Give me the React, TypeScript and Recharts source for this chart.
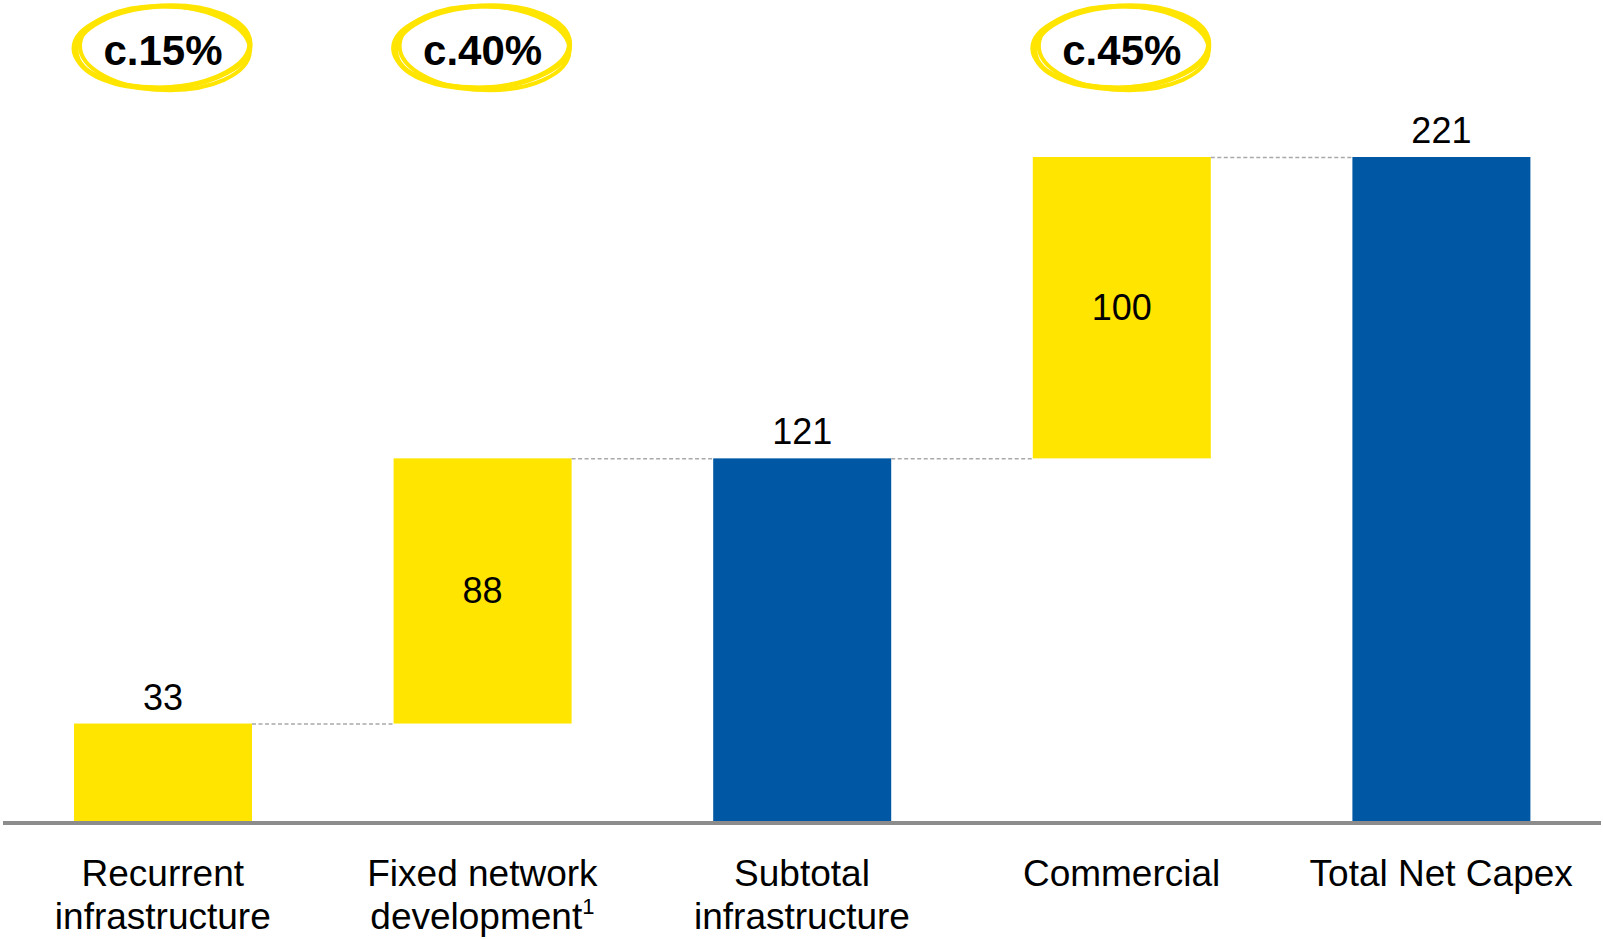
import { BarChart, Bar, XAxis, YAxis, LabelList } from 'recharts';

// categories, split into the lines they are printed on
const categoryLines = [
  ['Recurrent', 'infrastructure'],
  ['Fixed network', 'development'],
  ['Subtotal', 'infrastructure'],
  ['Commercial'],
  ['Total Net Capex'],
];
const footnotes = ['', '1', '', '', ''];
const amounts = [33, 88, 121, 100, 221];
const kinds = ['step', 'step', 'total', 'step', 'total'];
const shares = ['c.15%', 'c.40%', '', 'c.45%', ''];

const YELLOW = '#FFE500';
const BLUE = '#0057A3';
const FONT = '"Liberation Sans", Arial, Helvetica, sans-serif';

const W = 1603;
const H = 939;
const MARGIN = { top: 157, right: 2, left: 3, bottom: 0 };
const AXIS_H = 116;
const BAND = (W - MARGIN.left - MARGIN.right) / amounts.length;

// waterfall: steps float on the running total, totals start at zero
let running = 0;
const data = amounts.map((v, i) => {
  const low = kinds[i] === 'total' ? 0 : running;
  const high = low + v;
  running = high;
  return { name: categoryLines[i].join(' '), low, high, amount: v, share: shares[i] };
});

function WaterfallBar(props: any) {
  const { x, y, width, height, index } = props;
  const top = height < 0 ? y + height : y;
  const h = Math.abs(height);
  return (
    <g>
      <rect x={x} y={top} width={width} height={h} fill={kinds[index] === 'total' ? BLUE : YELLOW} />
      {index < amounts.length - 1 && (
        <line
          x1={x + width}
          x2={x + BAND}
          y1={top + 0.5}
          y2={top + 0.5}
          stroke="#a9a9a9"
          strokeWidth={1.5}
          strokeDasharray="4 2.5"
        />
      )}
    </g>
  );
}

function ValueLabel(props: any) {
  const { x, y, width, height, index } = props;
  const d = data[index];
  const top = height < 0 ? y + height : y;
  const h = Math.abs(height);
  const cx = x + width / 2;
  if (d.low > 0) {
    return (
      <text x={cx} y={top + h / 2} textAnchor="middle" dominantBaseline="central" fontSize={36} fontFamily={FONT} fill="#000">
        {d.amount}
      </text>
    );
  }
  return (
    <text x={cx} y={top - 14} textAnchor="middle" fontSize={36} fontFamily={FONT} fill="#000">
      {d.amount}
    </text>
  );
}

function Badge(props: any) {
  const { x, width, index } = props;
  const label = shares[index];
  if (!label) return null;
  const cx = x + width / 2;
  const cy = 47;
  return (
    <g>
      <ellipse cx={cx} cy={cy} rx={87} ry={41} fill="none" stroke={YELLOW} strokeWidth={5} transform={`rotate(-3 ${cx} ${cy})`} />
      <ellipse cx={cx + 2} cy={cy + 1} rx={85} ry={42} fill="none" stroke={YELLOW} strokeWidth={4} transform={`rotate(2 ${cx} ${cy})`} />
      <ellipse cx={cx - 1} cy={cy} rx={89} ry={40} fill="none" stroke={YELLOW} strokeWidth={3} transform={`rotate(-1 ${cx} ${cy})`} />
      <text x={cx} y={cy + 3} textAnchor="middle" dominantBaseline="central" fontSize={42} fontWeight="bold" fontFamily={FONT} fill="#000">
        {label}
      </text>
    </g>
  );
}

function CategoryTick(props: any) {
  const { x, y, payload } = props;
  const i = data.findIndex((d) => d.name === payload.value);
  const lines = categoryLines[i] || [payload.value];
  return (
    <g>
      {lines.map((line, k) => (
        <text key={k} x={x} y={y + 63 + k * 43} textAnchor="middle" fontSize={37} fontFamily={FONT} fill="#000">
          {line}
          {k === lines.length - 1 && footnotes[i] ? (
            <tspan fontSize={22} dy={-15}>
              {footnotes[i]}
            </tspan>
          ) : null}
        </text>
      ))}
    </g>
  );
}

export default function App() {
  return (
    <div style={{ position: 'absolute', left: 0, top: 0, width: W, height: H, background: '#fff' }}>
      <BarChart width={W} height={H} data={data} margin={MARGIN} barSize={178}>
        <YAxis hide domain={[0, 221]} />
        <XAxis
          dataKey="name"
          height={AXIS_H}
          interval={0}
          axisLine={{ stroke: '#8c8c8c', strokeWidth: 4 }}
          tickLine={false}
          tickSize={0}
          tickMargin={0}
          tick={<CategoryTick />}
        />
        <Bar dataKey={(d: any) => [d.low, d.high]} shape={<WaterfallBar />} isAnimationActive={false}>
          <LabelList content={<ValueLabel />} />
          <LabelList content={<Badge />} />
        </Bar>
      </BarChart>
    </div>
  );
}
